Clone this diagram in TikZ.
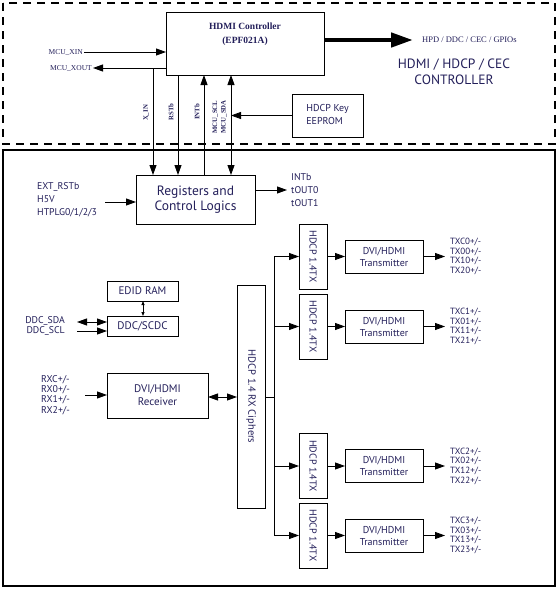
\documentclass[tikz,border=0pt]{standalone}
\usepackage{fontspec}
\setmainfont{Liberation Serif}
\setsansfont{PT Sans}
\usetikzlibrary{arrows.meta}
\definecolor{txt}{RGB}{35,31,90}
\begin{document}
\begin{tikzpicture}[x=1pt,y=-1pt,
 box/.style={draw,line width=1pt,inner sep=0pt,outer sep=0pt,font=\sffamily\fontsize{11}{13}\selectfont,text=txt,align=center},
 lab/.style={inner sep=1pt,font=\sffamily\fontsize{9.8}{10.3}\selectfont,text=txt,align=left},
 slab/.style={inner sep=1pt,font=\bfseries\fontsize{6.8}{8.5}\selectfont,text=txt,align=center},
 arr/.style={line width=0.9pt,-{Triangle[length=10pt,width=7pt]}},
 darr/.style={line width=0.9pt,{Triangle[length=10pt,width=7pt]}-{Triangle[length=10pt,width=7pt]}},
 ln/.style={line width=0.9pt}]
\useasboundingbox (0,0) rectangle (559,592);
% outer frames
\draw[line width=1.2pt,dash pattern=on 8pt off 6pt] (3,3) rectangle (555,144);
\draw[line width=1.2pt] (3,150) rectangle (555,586);
% controller
\node[box,minimum width=158,minimum height=63] (ctrl) at (245,43.5) {};
\node[inner sep=0pt,font=\bfseries\fontsize{9.5}{14}\selectfont,text=txt,align=center] (ctrlt) at (245,34) {HDMI Controller\\(EPF021A)};
\node[lab,anchor=east,font=\fontsize{7.5}{9}\selectfont] (xin) at (84,52) {MCU\_XIN};
\node[lab,anchor=east,font=\fontsize{7.5}{9}\selectfont] (xout) at (93,68) {MCU\_XOUT};
\draw[arr] (xin.east) -- (xin.east -| ctrl.west);
\draw[arr] (xout.east -| ctrl.west) -- (xout.east);
\draw[line width=4.5pt,-{Triangle[length=22pt,width=14pt]}] (ctrl.east |- 0,40) coordinate (bigA) -- (413,40) coordinate (bigB);
\node[lab,anchor=west,font=\fontsize{8.5}{10}\selectfont] (hpd) at (421,40) {HPD / DDC / CEC / GPIOs};
\node[inner sep=0pt,font=\sffamily\fontsize{13.5}{16.5}\selectfont,text=txt,align=center] (title) at (454,72) {HDMI / HDCP / CEC\\CONTROLLER};
\node[box,minimum width=71,minimum height=43,font=\sffamily\fontsize{10}{13}\selectfont] (key) at (327.5,115.5) {\begin{tabular}{@{}l@{}}HDCP Key\\EEPROM\end{tabular}};
% registers
\node[box,minimum width=119,minimum height=49,font=\sffamily\fontsize{13.5}{15.5}\selectfont] (regs) at (195.5,199.5) {Registers and\\Control Logics};
\coordinate (xinT) at (153,68);
\coordinate (cR) at (178,0);
\coordinate (cI) at (204,0);
\coordinate (cS) at (231,0);
\draw[arr] (xinT) -- (xinT |- regs.north);
\draw[arr] (ctrl.south -| cR) -- (regs.north -| cR);
\draw[arr] (regs.north -| cI) -- (ctrl.south -| cI);
\draw[darr] (ctrl.south -| cS) -- (regs.north -| cS);
\draw[arr] (key.west) -- (key.west -| cS);
\node[slab,rotate=90] (lxin) at (146,113) {X\_IN};
\node[slab,rotate=90] (lrst) at (171,112) {RSTb};
\node[slab,rotate=90] (lint) at (197,112) {INTb};
\node[slab,rotate=90] (lmcu) at (219.5,117) {MCU\_SCL\\MCU\_SDA};
% register inputs / outputs
\node[lab,anchor=west,font=\sffamily\fontsize{9.8}{13}\selectfont] (inl) at (36,200) {EXT\_RSTb\\H5V\\HTPLG0/1/2/3};
\coordinate (inS) at (105,202);
\draw[arr] (inS) -- (inS -| regs.west);
\node[lab,anchor=west,font=\sffamily\fontsize{9.8}{13.3}\selectfont] (outl) at (290,190) {INTb\\tOUT0\\tOUT1};
\draw[arr] (regs.east |- 0,190) -- (287,190);
% EDID / DDC
\node[box,minimum width=71,minimum height=20] (edid) at (142.5,291) {EDID RAM};
\node[box,minimum width=71,minimum height=20] (ddc) at (142.5,326) {DDC/SCDC};
\draw[line width=0.8pt,{Triangle[length=4pt,width=3pt]}-{Triangle[length=4pt,width=3pt]}] (edid.south -| 143,0) -- (ddc.north -| 143,0);
\node[lab,anchor=east,align=right] (ddcl) at (66,326) {DDC\_SDA\\DDC\_SCL};
\coordinate (dS) at (77,322);
\coordinate (dC) at (77,331);
\draw[darr] (dS) -- (dS -| ddc.west);
\draw[arr] (dC) -- (dC -| ddc.west);
% receiver
\node[box,minimum width=101,minimum height=45] (rx) at (157.5,395.5) {DVI/HDMI\\Receiver};
\node[lab,anchor=west] (rxl) at (40,395) {RXC+/-\\RX0+/-\\RX1+/-\\RX2+/-};
\coordinate (rS) at (85,395);
\draw[arr] (rS) -- (rS -| rx.west);
\node[box,minimum width=28,minimum height=223] (ciph) at (251,396.5) {};
\node[inner sep=0pt,rotate=-90,font=\sffamily\fontsize{10.5}{12}\selectfont,text=txt] (ciphT) at (ciph.center) {HDCP 1.4 RX Ciphers};
\draw[darr] (rx.east |- 0,397) -- (ciph.west |- 0,397);
% bus
\coordinate (busT) at (274,256.5);
\coordinate (busB) at (274,535.5);
\draw[ln] (busT) -- (busB);
\draw[ln] (ciph.east |- 0,397) -- (busT |- 0,397);
% transmit chains
\foreach \i/\y/\a/\b/\c/\d in {1/256.5/TXC0/TX00/TX10/TX20, 2/326.5/TXC1/TX01/TX11/TX21, 3/466/TXC2/TX02/TX12/TX22, 4/535.5/TXC3/TX03/TX13/TX23}{
  \node[box,minimum width=28,minimum height=65] (tx\i) at (313,\y) {};
  \node[inner sep=0pt,rotate=-90,font=\sffamily\fontsize{10}{12}\selectfont,text=txt] (txT\i) at (tx\i.center) {HDCP 1.4TX};
  \node[box,minimum width=78,minimum height=33,font=\sffamily\fontsize{10}{12}\selectfont] (tr\i) at (384,\y) {DVI/HDMI\\Transmitter};
  \coordinate (o\i) at (445,\y);
  \draw[arr] (tx\i.west -| busT) -- (tx\i.west);
  \draw[arr] (tx\i.east) -- (tr\i.west);
  \draw[arr] (tr\i.east) -- (o\i);
  \node[lab,anchor=west,font=\sffamily\fontsize{9}{9.7}\selectfont] (ol\i) at (449,\y) {\a+/-\\\b+/-\\\c+/-\\\d+/-};
}
\end{tikzpicture}
\end{document}
